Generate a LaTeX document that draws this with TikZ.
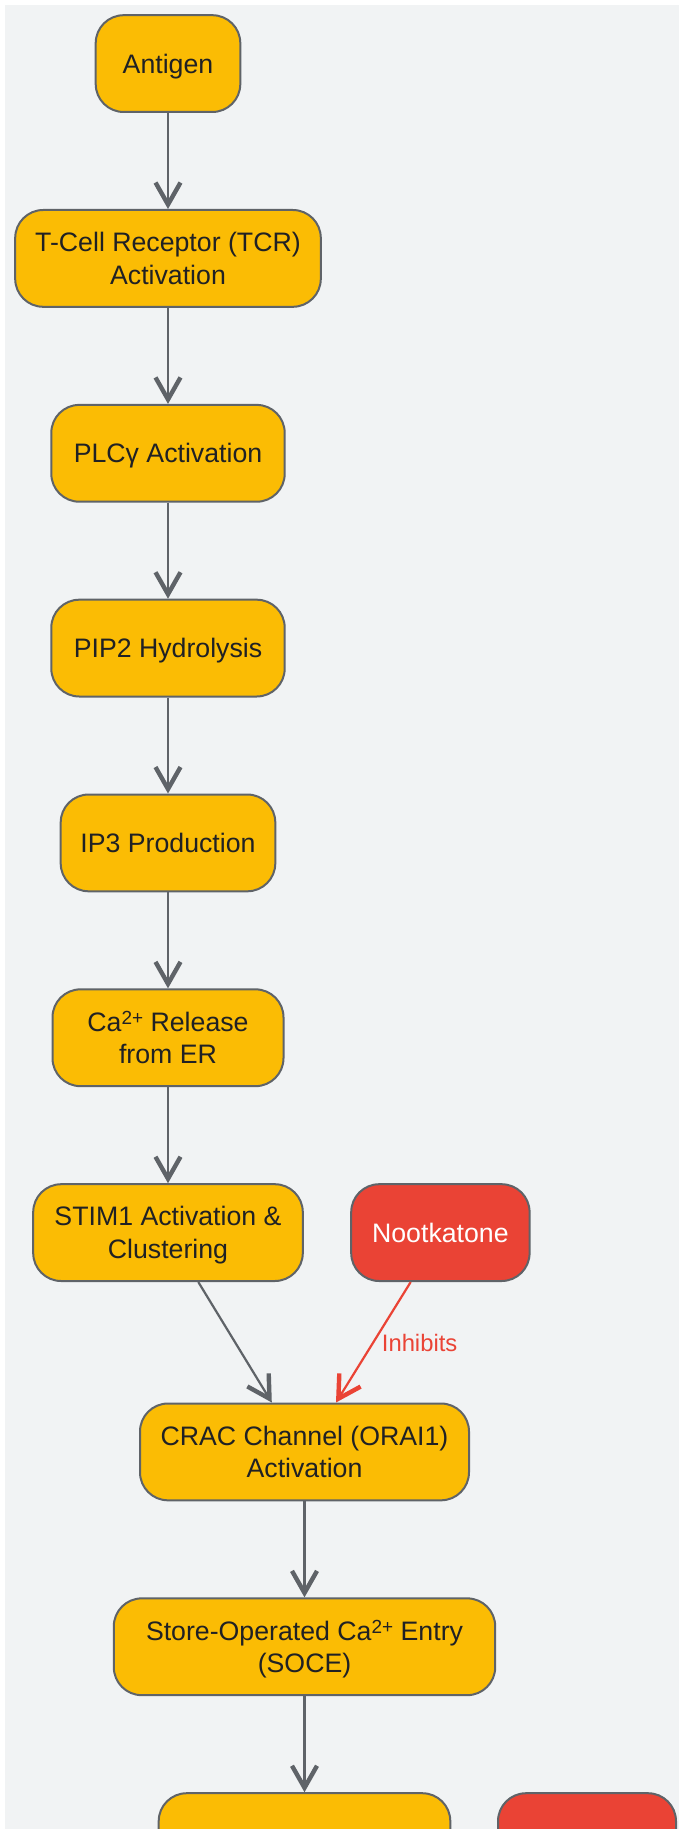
\documentclass[tikz,border=0pt]{standalone}
\usepackage{fontspec}
\setmainfont{Liberation Sans}
\usetikzlibrary{arrows.meta}
\definecolor{ylw}{HTML}{FBBC04}
\definecolor{rd}{HTML}{EA4335}
\definecolor{edgegray}{HTML}{5F6368}
\definecolor{bggray}{HTML}{F1F3F4}
\definecolor{dark}{HTML}{202124}
\newcommand{\catwo}{Ca{\fontsize{9.5}{9.5}\selectfont\raisebox{3.2pt}{2+}}}
\tikzset{
  box/.style={draw=edgegray, line width=1pt, rounded corners=14pt, fill=ylw,
    minimum height=48.4pt, text=dark, align=center, inner sep=0pt, text depth=0pt,
    font=\fontsize{13.35}{16.3}\selectfont},
  redbox/.style={box, fill=rd, text=white},
  tipv/.style={-{Straight Barb[length=11pt,width=12.5pt,line width=2.2pt,sharp]}},
  flow/.style={draw=edgegray, line width=1.1pt, tipv},
  inhib/.style={draw=rd, line width=1.1pt, tipv},
  lbl/.style={text=rd, font=\fontsize{11.9}{14}\selectfont, inner sep=0pt, anchor=west}
}
\begin{document}
\begin{tikzpicture}[x=0.5pt,y=-0.5pt]
\useasboundingbox (0,0) rectangle (679,1829);
\clip (0,0) rectangle (679,1829);
\fill[white] (0,0) rectangle (679,1829);
\fill[bggray] (5,5) rectangle (679,1829);

\node[box, minimum width=72.3pt] (antigen) at (168,63.6) {Antigen};
\node[box, minimum width=152.8pt] (tcr) at (168,258.4) {T-Cell Receptor (TCR)\\Activation};
\node[box, minimum width=116.7pt] (plc) at (168,453.3) {PLCγ Activation};
\node[box, minimum width=116.7pt] (pip2) at (168,648.1) {PIP2 Hydrolysis};
\node[box, minimum width=107.3pt] (ip3) at (168,842.9) {IP3 Production};
\node[box, minimum width=115.5pt] (ca) at (168,1037.75) {\catwo{} Release\\from ER};
\node[box, minimum width=134.8pt] (stim) at (168,1232.6) {STIM1 Activation \&\\Clustering};
\node[redbox, minimum width=89.2pt] (noot) at (440.4,1232.6) {Nootkatone};
\node[box, minimum width=164.5pt] (crac) at (304.5,1451.9) {CRAC Channel (ORAI1)\\Activation};
\node[box, minimum width=190.7pt] (soce) at (304.5,1646.75) {Store-Operated \catwo{} Entry\\(SOCE)};
\node[box, minimum width=145.8pt] (next) at (304.5,1841.6) {};
\node[redbox, minimum width=89pt] (nextred) at (587,1841.6) {};

\draw[flow] (antigen) -- (tcr);
\draw[flow] (tcr) -- (plc);
\draw[flow] (plc) -- (pip2);
\draw[flow] (pip2) -- (ip3);
\draw[flow] (ip3) -- (ca);
\draw[flow] (ca) -- (stim);
\draw[flow] ([xshift=15.15pt]stim.south) -- ([xshift=-16.35pt]crac.north);
\draw[inhib] ([xshift=-14.85pt]noot.south) -- ([xshift=15.75pt]crac.north);
\node[lbl] (inh) at (381.5,1343) {Inhibits};
\draw[flow] (crac) -- (soce);
\draw[flow] (soce) -- (next);
\end{tikzpicture}
\end{document}
